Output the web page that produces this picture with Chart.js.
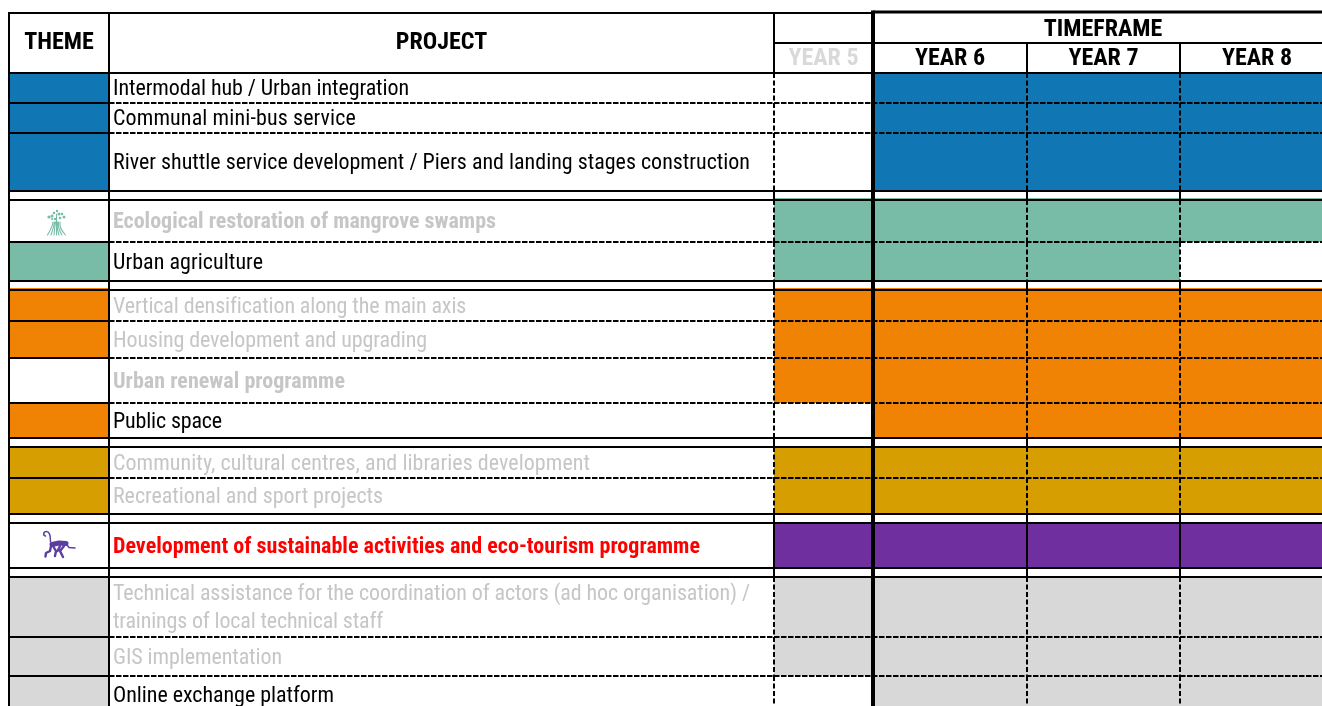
<!DOCTYPE html>
<html><head><meta charset="utf-8">
<style>html,body{margin:0;padding:0;background:#fff;overflow:hidden}canvas{display:block}</style>
<script src="https://cdn.jsdelivr.net/npm/chart.js@4/dist/chart.umd.min.js"></script>
</head><body><canvas id="c" width="1322" height="706"></canvas>
<script>
const headerThemeProject = ["THEME","PROJECT"];
const yearLabels = ["YEAR 5","YEAR 6","YEAR 7","YEAR 8"];
const groupLabel = "TIMEFRAME";
const projects = [
 ["Intermodal hub / Urban integration"],
 ["Communal mini-bus service"],
 ["River shuttle service development / Piers and landing stages construction"],
 ["Ecological restoration of mangrove swamps"],
 ["Urban agriculture"],
 ["Vertical densification along the main axis"],
 ["Housing development and upgrading"],
 ["Urban renewal programme"],
 ["Public space"],
 ["Community, cultural centres, and libraries development"],
 ["Recreational and sport projects"],
 ["Development of sustainable activities and eco-tourism programme"],
 ["Technical assistance for the coordination of actors (ad hoc organisation) /","trainings of local technical staff"],
 ["GIS implementation"],
 ["Online exchange platform"]
];
// right end of each text line
const projectEnd = [[409],[356],[750],[496],[263],[465],[427],[345],[222],[590],[383],[700],[750,383],[282],[334]];
const BLUE="#1076b4",GREEN="#78bba7",ORANGE="#f08204",GOLD="#d69e00",PURPLE="#6f2f9f",GREY="#d8d8d8";
const INK="#000000",FADE="#c6c6c6",RED="#ff0000";
const rowColor = [BLUE,BLUE,BLUE,GREEN,GREEN,ORANGE,ORANGE,ORANGE,ORANGE,GOLD,GOLD,PURPLE,GREY,GREY,GREY];
const themeFilled = [1,1,1,0,1,1,1,0,1,1,1,0,1,1,1];
// first and last timeframe year in which each project runs
const firstYear = [6,6,6,5,5,5,5,5,6,5,5,5,5,5,6];
const lastYear  = [8,8,8,8,7,8,8,8,8,8,8,8,8,8,8];
const textColor = [INK,INK,INK,FADE,INK,FADE,FADE,FADE,INK,FADE,FADE,RED,FADE,FADE,INK];
const textBold  = [0,0,0,1,0,0,0,1,0,0,0,1,0,0,0];
// table geometry (axis units)
const rowTop    = [73,103,133,200,242,290,321,358,403,447,478,523,577,637,676];
const rowBottom = [103,133,191,242,281,321,358,403,438,478,514,568,637,676,714];
const fillBleed = [0,0,0,2,0,2,0,0,0,0,0,0,0,0,0];
const endsGroup = [0,0,1,0,1,0,0,0,1,0,1,1,0,0,0];
const colEdge = [9,109,774,873,1027,1180,1333];
const yearEdge = {5:[774,873],6:[873,1027],7:[1027,1180],8:[1180,1333]};

const datasets=[];
function rule(x1,y1,x2,y2,w,dash){
  datasets.push({type:"line",order:0,data:[{x:x1,y:y1},{x:x2,y:y2}],borderColor:"#000",borderWidth:w,
    borderDash:dash||[],pointRadius:0,tension:0,fill:false,borderCapStyle:"butt",clip:false});
}
const HD=[5.5,1.5], VD=[5,2.5];
const W=1322;
// top rules and header
rule(colEdge[0],13,colEdge[3],13,2);
rule(colEdge[3],12,W,12,3);
rule(colEdge[2],43,W,43,2);
rule(colEdge[0],73,W,73,2);
// row rules
projects.forEach((p,i)=>{
  const y=rowBottom[i];
  if(i<projects.length-1){
    rule(colEdge[0],y,colEdge[1],y,2);
    if(endsGroup[i]){ rule(colEdge[1],y,W,y,2);
      if(rowTop[i+1]!==y){rule(colEdge[0],rowTop[i+1],W,rowTop[i+1],2);} }
    else rule(colEdge[1],y,W,y,2,HD);
  }
});
// vertical rules
rule(colEdge[0],12,colEdge[0],706,2);
rule(colEdge[1],12,colEdge[1],706,2);
rule(colEdge[3],10.5,colEdge[3],706,4);
rule(colEdge[2],12,colEdge[2],73,2);
[colEdge[4],colEdge[5]].forEach(x=>rule(x,43,x,73,2));
[colEdge[2],colEdge[4],colEdge[5]].forEach(x=>{
  projects.forEach((p,i)=>{
    const solid = rowColor[i]===PURPLE;
    rule(x,rowTop[i],x,Math.min(rowBottom[i],706),2,solid?[]:VD);
    if(endsGroup[i]) rule(x,rowBottom[i],x,rowTop[i+1],2);
  });
});
// filled cells as floating horizontal bars
projects.forEach((p,i)=>{
  const top=rowTop[i]-fillBleed[i], bot=rowBottom[i]+(rowColor[i]===PURPLE?1:0), y=(top+bot)/2, d=[];
  if(themeFilled[i]) d.push({y,x:[colEdge[0],colEdge[1]]});
  d.push({y,x:[yearEdge[firstYear[i]][0],yearEdge[lastYear[i]][1]]});
  datasets.push({type:"bar",order:1,indexAxis:"y",grouped:false,data:d,backgroundColor:rowColor[i],
    borderWidth:0,inflateAmount:0,barThickness:bot-top});
});

const FONT='Roboto';
const tableText={id:"tableText",afterDraw(ch){
  const c=ch.ctx,sx=ch.scales.x,sy=ch.scales.y;
  const put=(t,x,y,bold,color,size,align,end)=>{
    c.save();
    c.font=(bold?"700 ":"400 ")+size+"px "+FONT;
    try{c.fontStretch="condensed";}catch(e){}
    c.fillStyle=color;c.textBaseline="middle";c.textAlign=align;
    if(end){
      const w=c.measureText(t).width;
      c.letterSpacing=((end-x-w)/t.length).toFixed(3)+"px";
    }
    c.fillText(t,sx.getPixelForValue(x),sy.getPixelForValue(y));
    c.restore();
  };
  const H=24;
  put(headerThemeProject[0],59,42.5,true,INK,H,"center");
  put(headerThemeProject[1],441.5,42.5,true,INK,H,"center");
  put(groupLabel,1103,30,true,INK,H,"center");
  yearLabels.forEach((t,i)=>{
    put(t,(colEdge[2+i]+colEdge[3+i])/2-(i==3?-0.5:0),59,true,i===0?"#d9d9d9":INK,H,"center");
  });
  projects.forEach((lines,i)=>{
    const mid=(rowTop[i]+rowBottom[i])/2;
    lines.forEach((t,j)=>{
      const y=mid+1.5+(j-(lines.length-1)/2)*28;
      put(t,113,y,textBold[i],textColor[i],22,"left",projectEnd[i][j]);
    });
  });
  // theme pictograms
  c.save();
  const px=v=>sx.getPixelForValue(v),py=v=>sy.getPixelForValue(v);
  c.strokeStyle=GREEN;c.fillStyle=GREEN;c.lineWidth=1.1;c.lineCap="round";
  c.beginPath();c.moveTo(px(56.5),py(214));c.lineTo(px(56.5),py(235));
  [[47.5,53],[51,54.5],[54,55.5],[59,57.5],[62,58.5],[65.5,60]].forEach(r=>{
    c.moveTo(px(r[1]),py(222));c.quadraticCurveTo(px(r[1]-1),py(228),px(r[0]),py(235));
  });
  c.stroke();
  [[49,217,1.6],[52,216,1.5],[54,213,1.3],[55,219,1.2],[57,211,1.2],[59,214,1.5],[62,214,1.3],[60,218,1.3],[64,217,1.5],[52,219,1.1]].forEach(d=>{
    c.beginPath();c.arc(px(d[0]),py(d[1]),d[2],0,Math.PI*2);c.fill();
  });
  c.strokeStyle="#5b3ea0";c.lineJoin="round";
  c.lineWidth=1.5;c.beginPath();
  c.moveTo(px(50.5),py(542));c.bezierCurveTo(px(50.5),py(536),px(50),py(531.5),px(46.5),py(531.5));
  c.bezierCurveTo(px(43),py(531.5),px(43),py(535.5),px(45.5),py(536));c.stroke();
  c.lineWidth=5;c.beginPath();c.moveTo(px(52),py(544.5));c.lineTo(px(59),py(543));c.lineTo(px(66),py(543.5));c.stroke();
  c.lineWidth=2.4;c.beginPath();
  c.moveTo(px(51),py(546));c.lineTo(px(50),py(551));c.lineTo(px(46),py(553));c.lineTo(px(45.5),py(556.5));
  c.moveTo(px(53),py(546));c.lineTo(px(56),py(551));c.lineTo(px(55),py(556));
  c.moveTo(px(64),py(546));c.lineTo(px(60),py(551));c.lineTo(px(63),py(557));
  c.moveTo(px(60),py(546));c.lineTo(px(57.5),py(551));
  c.stroke();
  c.lineWidth=1.5;c.beginPath();c.moveTo(px(67),py(545));c.lineTo(px(69),py(547.5));c.lineTo(px(75),py(548));c.stroke();
  c.restore();
}};

new Chart(document.getElementById("c"),{
  type:"bar",
  data:{datasets},
  options:{
    responsive:false,animation:false,
    layout:{padding:0},
    plugins:{legend:{display:false},tooltip:{enabled:false},title:{display:false}},
    events:[],
    scales:{
      x:{type:"linear",min:0,max:1322,offset:false,display:false,grid:{display:false}},
      y:{type:"linear",min:0,max:706,offset:false,reverse:true,display:false,grid:{display:false}}
    }
  },
  plugins:[tableText]
});
</script></body></html>
